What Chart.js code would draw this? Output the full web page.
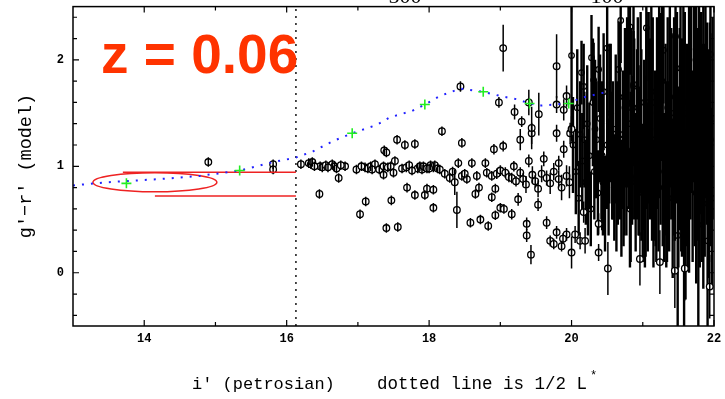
<!DOCTYPE html>
<html>
<head>
<meta charset="utf-8">
<title>g'-r' vs i'</title>
<script src="https://cdn.jsdelivr.net/npm/chart.js@4.4.1/dist/chart.umd.min.js"></script>
<style>
    html, body { margin: 0; padding: 0; background: #fff; }
    #wrap { width: 725px; height: 399px; position: relative; }
</style>
</head>
<body>
<div id="wrap"><canvas id="colourChart"></canvas></div>
<script>
// axis ticks
const xTickVals = [14, 16, 18, 20, 22];
const xMinorVals = [15, 17, 19, 21];
const yTickVals = [0, 1, 2];
const yMinorVals = [-0.4, -0.2, 0.2, 0.4, 0.6, 0.8, 1.2, 1.4, 1.6, 1.8, 2.2, 2.4];

// brighter galaxies: red sequence plus scatter, small errors
const brightX = [
    14.90, 15.81, 15.81, 16.20, 16.31, 16.34, 16.36, 16.47, 16.50, 16.55,
    16.64, 16.67, 16.70, 16.73, 16.82, 16.98, 17.10, 17.14, 17.18, 17.24,
    17.30, 17.36, 17.36, 17.42, 17.50, 17.52, 17.37, 17.40, 17.55, 17.66,
    17.80, 17.62, 17.68, 17.72, 17.84, 17.87, 17.90, 17.92, 17.97, 18.02,
    18.06, 18.08, 18.12, 18.15, 18.22, 18.29, 18.36, 18.41, 18.46, 18.53,
    18.60, 18.67, 18.79, 18.81, 18.88, 18.95, 19.00, 19.07, 19.12, 19.16,
    19.19, 19.22, 19.28, 19.32, 19.36, 19.40, 19.45, 19.49, 19.53, 19.58,
    19.61, 19.65, 19.70, 19.75, 19.82, 19.82, 19.86, 19.89, 19.93, 19.97,
    18.18, 18.46, 18.91, 19.04, 19.28, 19.44, 19.79, 19.98, 20.00, 18.44,
    18.98, 19.20, 19.30, 19.40, 19.44, 19.54, 19.79, 19.79, 19.93, 19.89,
    16.46, 17.11, 17.03, 17.47, 17.40, 17.56, 17.69, 17.80, 17.94, 17.97,
    18.06, 18.06, 18.39, 18.65, 18.70, 18.88, 18.93, 19.00, 19.05, 18.93,
    19.16, 18.72, 18.58, 18.83, 19.25, 19.53, 19.37, 19.65, 19.37, 19.79,
    19.93, 19.43, 19.70, 19.75, 19.86, 19.88, 20.00, 20.05, 20.12, 20.19,
    20.17, 20.38, 20.38, 20.51, 20.96, 21.24, 21.45, 21.59, 21.94, 19.04,
    16.39, 16.58, 16.76, 17.05, 17.20, 17.46, 17.76, 18.00, 18.33, 18.50
];
const brightY = [
    1.04, 1.02, 0.97, 1.02, 1.03, 1.02, 1.04, 1.00, 0.99, 1.01,
    1.02, 1.00, 0.98, 0.89, 1.00, 0.97, 0.99, 0.98, 1.00, 1.02,
    0.97, 1.00, 0.92, 0.99, 0.94, 1.05, 1.15, 1.13, 1.25, 1.20,
    1.21, 0.98, 0.99, 1.01, 0.98, 1.00, 0.97, 1.00, 0.98, 1.01,
    0.99, 1.01, 0.98, 0.97, 0.93, 0.89, 0.85, 1.03, 0.91, 0.88,
    1.03, 0.91, 1.03, 0.94, 0.91, 0.93, 0.96, 0.94, 0.90, 0.89,
    1.00, 0.86, 0.94, 0.88, 0.83, 1.05, 0.92, 0.86, 0.79, 0.93,
    1.07, 0.89, 0.84, 0.95, 1.03, 0.88, 0.80, 1.16, 0.91, 0.85,
    1.33, 1.22, 1.16, 1.19, 1.25, 1.31, 1.31, 1.31, 1.35, 1.75,
    1.60, 1.51, 1.42, 1.60, 1.36, 1.49, 1.94, 1.58, 1.66, 1.53,
    0.74, 0.67, 0.55, 0.68, 0.42, 0.43, 0.80, 0.73, 0.73, 0.79,
    0.78, 0.61, 0.59, 0.74, 0.80, 0.71, 0.79, 0.61, 0.60, 0.54,
    0.55, 0.50, 0.47, 0.44, 0.69, 0.64, 0.46, 0.47, 0.35, 0.38,
    0.36, 0.17, 0.30, 0.27, 0.25, 0.32, 0.19, 0.36, 0.30, 0.30,
    0.57, 0.19, 0.46, 0.04, 0.13, 0.10, 0.02, 0.04, -0.13, 2.11,
    1.00, 0.99, 1.01, 1.00, 0.97, 1.00, 0.96, 0.98, 0.95, 0.93
];
const brightErr = [
    0.03, 0.03, 0.03, 0.02, 0.02, 0.02, 0.02, 0.02, 0.02, 0.02,
    0.03, 0.03, 0.03, 0.03, 0.03, 0.03, 0.03, 0.03, 0.03, 0.03,
    0.03, 0.03, 0.03, 0.03, 0.03, 0.03, 0.03, 0.03, 0.03, 0.03,
    0.03, 0.03, 0.03, 0.03, 0.03, 0.03, 0.03, 0.03, 0.03, 0.03,
    0.03, 0.03, 0.03, 0.04, 0.04, 0.04, 0.12, 0.04, 0.04, 0.04,
    0.04, 0.04, 0.04, 0.04, 0.04, 0.05, 0.05, 0.05, 0.05, 0.05,
    0.05, 0.05, 0.05, 0.06, 0.08, 0.06, 0.08, 0.06, 0.08, 0.08,
    0.07, 0.07, 0.10, 0.08, 0.07, 0.08, 0.12, 0.08, 0.10, 0.15,
    0.04, 0.04, 0.05, 0.05, 0.10, 0.10, 0.08, 0.10, 0.12, 0.05,
    0.05, 0.07, 0.05, 0.12, 0.20, 0.20, 0.30, 0.08, 0.10, 0.10,
    0.03, 0.03, 0.03, 0.03, 0.03, 0.03, 0.03, 0.03, 0.03, 0.03,
    0.03, 0.03, 0.17, 0.04, 0.04, 0.04, 0.04, 0.04, 0.04, 0.04,
    0.05, 0.04, 0.04, 0.04, 0.06, 0.06, 0.06, 0.06, 0.06, 0.06,
    0.06, 0.09, 0.05, 0.05, 0.05, 0.05, 0.15, 0.08, 0.08, 0.12,
    0.10, 0.08, 0.10, 0.25, 0.25, 0.30, 0.35, 0.30, 0.30, 0.22,
    0.02, 0.02, 0.03, 0.03, 0.03, 0.03, 0.03, 0.03, 0.04, 0.04
];

// faint galaxies, i' > 20, large errors
const faintX = [
    20.02, 20.06, 20.08, 20.10, 20.12, 20.15, 20.17, 20.20, 20.22, 20.25,
    20.27, 20.30, 20.32, 20.35, 20.37, 20.40, 20.42, 20.45, 20.47, 20.50,
    20.52, 20.55, 20.57, 20.60, 20.62, 20.65, 20.67, 20.70, 20.72, 20.75,
    20.77, 20.80, 20.82, 20.85, 20.87, 20.90, 20.92, 20.95, 20.97, 21.00,
    21.02, 21.05, 21.07, 21.10, 21.12, 21.15, 21.17, 21.20, 21.22, 21.25,
    21.27, 21.30, 21.32, 21.35, 21.37, 21.40, 21.42, 21.45, 21.47, 21.50,
    21.52, 21.55, 21.57, 21.60, 21.62, 21.65, 21.67, 21.70, 21.72, 21.75,
    21.77, 21.80, 21.82, 21.85, 21.87, 21.90, 21.92, 21.95, 21.97, 21.49,
    21.58, 21.78, 21.91, 20.00, 20.50, 20.69, 20.82, 21.05, 21.46, 21.29,
    21.53, 20.28, 20.80, 20.87, 20.66, 21.24, 20.14, 20.38, 20.31, 21.65,
    21.75, 21.85, 21.95, 20.64, 20.74, 20.84, 20.94, 21.04, 21.14, 21.34,
    21.44, 21.56, 21.64, 21.74, 21.84, 21.94, 20.44, 20.58, 21.08, 21.18,
    20.33, 20.43, 20.53, 20.63, 20.68, 20.73, 20.78, 20.83, 20.88, 20.93,
    20.98, 21.03, 21.08, 21.13, 21.19, 21.23, 21.28, 21.33, 21.38, 21.43,
    21.48, 21.54, 21.59, 21.63, 21.68, 21.73, 21.79, 21.83, 21.88, 21.93,
    21.98, 20.18, 20.23
];
const faintY = [
    1.20, 0.95, 1.55, 0.70, 1.30, 1.05, 1.75, 0.85, 1.40, 1.10,
    0.60, 1.60, 0.95, 1.25, 0.75, 1.45, 1.00, 1.70, 0.65, 1.20,
    0.90, 1.50, 1.10, 0.80, 1.35, 1.00, 1.65, 0.70, 1.25, 1.55,
    0.95, 1.40, 0.60, 1.15, 1.75, 0.85, 1.30, 1.05, 1.60, 0.75,
    1.20, 1.45, 0.90, 1.35, 1.70, 0.65, 1.10, 1.50, 0.95, 1.30,
    1.80, 0.80, 1.25, 1.55, 1.00, 1.40, 0.70, 1.15, 1.65, 0.90,
    1.35, 1.05, 1.60, 0.55, 1.20, 0.85, 1.45, 1.00, 1.70, 0.75,
    1.30, 0.95, 1.50, 0.65, 1.15, 1.40, 0.85, 1.25, 0.70, 0.35,
    0.40, 0.45, 0.30, 2.04, 2.11, 2.37, 2.31, 2.30, 2.22, 2.09,
    1.92, 2.02, 2.06, 1.77, 1.91, 1.84, 1.88, 1.91, 1.81, 2.00,
    2.10, 1.95, 2.05, 1.20, 0.90, 1.55, 1.15, 1.00, 1.60, 0.95,
    1.50, 1.25, 1.10, 1.55, 1.20, 1.45, 0.85, 1.15, 1.60, 1.05,
    1.35, 1.10, 1.40, 0.95, 1.30, 1.05, 1.60, 0.90, 1.35, 1.55,
    1.20, 0.85, 1.55, 1.25, 0.95, 1.60, 1.20, 0.90, 1.65, 1.30,
    1.55, 1.20, 1.50, 0.95, 1.65, 1.25, 1.55, 1.05, 1.60, 1.10,
    1.45, 1.25, 0.85
];
const faintErr = [
    0.45, 0.40, 0.55, 0.35, 0.50, 0.45, 0.40, 0.40, 0.55, 0.50,
    0.35, 0.60, 0.45, 0.55, 0.40, 0.60, 0.50, 0.55, 0.45, 0.60,
    0.55, 0.65, 0.60, 0.50, 0.70, 0.55, 0.70, 0.55, 0.65, 0.75,
    0.60, 0.80, 0.55, 0.70, 0.75, 0.65, 0.80, 0.70, 0.85, 0.65,
    0.80, 0.85, 0.70, 0.85, 0.80, 0.60, 0.80, 0.90, 0.75, 0.85,
    0.75, 0.70, 0.90, 0.85, 0.80, 0.90, 0.75, 0.85, 0.80, 0.85,
    0.95, 0.90, 0.90, 0.80, 0.95, 0.85, 0.95, 0.90, 0.85, 0.85,
    1.00, 0.90, 0.95, 0.80, 1.00, 0.95, 0.90, 1.00, 0.85, 0.85,
    0.90, 0.95, 0.80, 0.75, 0.70, 0.40, 0.45, 0.50, 0.50, 0.50,
    0.60, 0.40, 0.50, 0.50, 0.45, 0.60, 0.30, 0.40, 0.35, 0.60,
    0.70, 0.70, 0.60, 0.60, 0.55, 0.75, 0.80, 0.85, 0.80, 0.85,
    0.90, 0.95, 0.90, 0.85, 0.95, 0.90, 0.50, 0.65, 0.85, 0.80,
    0.65, 0.70, 0.75, 0.75, 0.80, 0.80, 0.80, 0.80, 0.85, 0.85,
    0.90, 0.80, 0.90, 0.95, 0.85, 0.90, 0.95, 0.85, 0.85, 0.95,
    0.90, 1.00, 0.95, 0.90, 0.90, 1.00, 0.95, 0.95, 0.90, 1.00,
    0.95, 0.45, 0.50
];

// passive-evolution model track and its sampled redshift steps
const modelX = [13.00, 13.47, 14.22, 14.78, 15.34, 15.81, 16.12, 16.37, 16.66, 16.92,
    17.27, 17.45, 17.76, 17.94, 18.15, 18.44, 18.76, 19.00, 19.23, 19.41,
    19.56, 19.96, 20.12, 20.50];
const modelY = [0.82, 0.85, 0.88, 0.91, 0.96, 1.04, 1.08, 1.14, 1.24, 1.31,
    1.39, 1.46, 1.52, 1.58, 1.66, 1.73, 1.70, 1.66, 1.63, 1.59,
    1.57, 1.59, 1.64, 1.70];
const crossX = [13.75, 15.34, 16.92, 17.94, 18.76, 19.41, 19.96];
const crossY = [0.84, 0.96, 1.31, 1.58, 1.70, 1.59, 1.59];

// half L* cut, and the red markings on the bright end
const halfLstar = 16.13;
const redUpperX = [13.70, 16.13];
const redUpperY = [0.944, 0.944];
const redLowerX = [14.15, 16.13];
const redLowerY = [0.72, 0.72];
const ringCentre = [14.15, 0.85];
const ringRadius = [0.87, 0.09];

const toPts = (xs, ys) => xs.map((x, i) => ({ x: x, y: ys[i] }));

const MONO = '"Liberation Mono", "DejaVu Sans Mono", monospace';

// error bars, stroked over the markers so each reads as a barred circle
const errorBars = {
    id: 'errorBars',
    afterDatasetDraw(chart, args) {
        const ds = chart.data.datasets[args.index];
        if (!ds.errs) return;
        const { ctx, chartArea, scales } = chart;
        ctx.save();
        ctx.beginPath();
        ctx.rect(chartArea.left, chartArea.top, chartArea.right - chartArea.left, chartArea.bottom - chartArea.top);
        ctx.clip();
        ctx.strokeStyle = '#000';
        ctx.lineWidth = ds.errWidth || 1.5;
        ds.data.forEach((p, i) => {
            const px = scales.x.getPixelForValue(p.x);
            const e = Math.max(ds.errs[i], 0.045);
            ctx.beginPath();
            ctx.moveTo(px, scales.y.getPixelForValue(p.y - e));
            ctx.lineTo(px, scales.y.getPixelForValue(p.y + e));
            ctx.stroke();
        });
        ctx.restore();
    }
};

// red ellipse round the brightest galaxies
const ring = {
    id: 'ring',
    beforeDatasetsDraw(chart) {
        const { ctx, scales } = chart;
        const cx = scales.x.getPixelForValue(ringCentre[0]);
        const cy = scales.y.getPixelForValue(ringCentre[1]);
        const rx = scales.x.getPixelForValue(ringCentre[0] + ringRadius[0]) - cx;
        const ry = cy - scales.y.getPixelForValue(ringCentre[1] + ringRadius[1]);
        ctx.save();
        ctx.strokeStyle = '#ee2222';
        ctx.lineWidth = 1.5;
        ctx.beginPath();
        ctx.ellipse(cx, cy, rx, ry, 0, 0, Math.PI * 2);
        ctx.stroke();
        ctx.restore();
    }
};

// box, inward ticks on all four sides, titles
const frame = {
    id: 'frame',
    afterDraw(chart) {
        const { ctx, chartArea: a, scales } = chart;
        ctx.save();
        ctx.strokeStyle = '#000';
        ctx.lineWidth = 1.5;
        ctx.strokeRect(a.left, a.top, a.right - a.left, a.bottom - a.top);

        ctx.lineWidth = 1.2;
        const xTick = (v, len) => {
            const px = scales.x.getPixelForValue(v);
            ctx.beginPath();
            ctx.moveTo(px, a.bottom); ctx.lineTo(px, a.bottom - len);
            ctx.moveTo(px, a.top); ctx.lineTo(px, a.top + len);
            ctx.stroke();
        };
        const yTick = (v, len) => {
            const py = scales.y.getPixelForValue(v);
            ctx.beginPath();
            ctx.moveTo(a.left, py); ctx.lineTo(a.left + len, py);
            ctx.moveTo(a.right, py); ctx.lineTo(a.right - len, py);
            ctx.stroke();
        };
        xTickVals.forEach(v => xTick(v, 6));
        xMinorVals.forEach(v => xTick(v, 4));
        yTickVals.forEach(v => yTick(v, 6));
        yMinorVals.forEach(v => yTick(v, 4));

        // labels sitting above the box, mostly cut off by the page edge
        ctx.fillStyle = '#000';
        ctx.font = '22px "Liberation Serif", serif';
        ctx.textAlign = 'center';
        ctx.textBaseline = 'alphabetic';
        ctx.fillText('500', 405, 3);
        ctx.fillText('100', 607, 3);

        ctx.textAlign = 'left';
        ctx.font = '17px ' + MONO;
        ctx.fillText("i' (petrosian)", 192, 389);
        ctx.font = '17.5px ' + MONO;
        ctx.fillText('dotted line is 1/2 L', 377, 389);
        ctx.font = '12px ' + MONO;
        ctx.fillText('*', 590, 379);

        ctx.save();
        ctx.translate(31, 166);
        ctx.rotate(-Math.PI / 2);
        ctx.textAlign = 'center';
        ctx.font = '18.5px ' + MONO;
        ctx.fillText("g'\u2212r' (model)", 0, 0);
        ctx.restore();

        ctx.fillStyle = '#ff3300';
        ctx.font = 'bold 55px "Liberation Sans", Arial, sans-serif';
        ctx.fillText('z = 0.06', 101, 73);
        ctx.restore();
    }
};

const ctx = document.getElementById('colourChart').getContext('2d');
new Chart(ctx, {
    type: 'scatter',
    data: {
        datasets: [
            {
                label: 'bright',
                data: toPts(brightX, brightY),
                errs: brightErr,
                errWidth: 1.5,
                pointRadius: 3.3,
                pointBorderWidth: 1.3,
                pointBackgroundColor: '#fff',
                pointBorderColor: '#000',
                order: 3
            },
            {
                label: 'faint',
                data: toPts(faintX, faintY),
                errs: faintErr,
                errWidth: 2.4,
                pointRadius: 2.8,
                pointBorderWidth: 1.2,
                pointBackgroundColor: '#fff',
                pointBorderColor: '#000',
                order: 3
            },
            {
                label: 'model',
                data: toPts(modelX, modelY),
                showLine: true,
                borderColor: '#2222ff',
                borderWidth: 2,
                borderDash: [2, 7],
                pointRadius: 0,
                order: 1
            },
            {
                label: 'steps',
                data: toPts(crossX, crossY),
                pointStyle: 'cross',
                pointRadius: 5,
                pointBorderWidth: 1.6,
                pointBorderColor: '#22ee22',
                order: 0
            },
            {
                label: 'upper',
                data: toPts(redUpperX, redUpperY),
                showLine: true,
                borderColor: '#ee2222',
                borderWidth: 1.5,
                pointRadius: 0,
                order: 2
            },
            {
                label: 'lower',
                data: toPts(redLowerX, redLowerY),
                showLine: true,
                borderColor: '#ee2222',
                borderWidth: 1.5,
                pointRadius: 0,
                order: 2
            },
            {
                label: 'half L*',
                data: [{ x: halfLstar, y: -0.5 }, { x: halfLstar, y: 2.5 }],
                showLine: true,
                borderColor: '#222',
                borderWidth: 1.6,
                borderDash: [2, 5],
                pointRadius: 0,
                order: 4
            }
        ]
    },
    options: {
        responsive: true,
        maintainAspectRatio: false,
        animation: false,
        layout: { padding: { top: 5, right: 11, left: 0, bottom: 0 } },
        plugins: {
            legend: { display: false },
            tooltip: { enabled: false }
        },
        scales: {
            x: {
                type: 'linear',
                min: 13,
                max: 22,
                grid: { display: false, drawTicks: false },
                border: { display: false },
                afterBuildTicks: s => { s.ticks = xTickVals.map(v => ({ value: v })); },
                afterFit: s => { s.height = 73; s.paddingLeft = 0; s.paddingRight = 0; },
                ticks: {
                    color: '#000',
                    padding: 6,
                    maxRotation: 0,
                    font: { family: MONO, size: 12, weight: 'bold' }
                }
            },
            y: {
                type: 'linear',
                min: -0.5,
                max: 2.5,
                grid: { display: false, drawTicks: false },
                border: { display: false },
                afterBuildTicks: s => { s.ticks = yTickVals.map(v => ({ value: v })); },
                afterFit: s => { s.width = 73; s.paddingTop = 0; s.paddingBottom = 0; },
                ticks: {
                    color: '#000',
                    padding: 9,
                    font: { family: MONO, size: 12, weight: 'bold' }
                }
            }
        }
    },
    plugins: [ring, errorBars, frame]
});
</script>
</body>
</html>
